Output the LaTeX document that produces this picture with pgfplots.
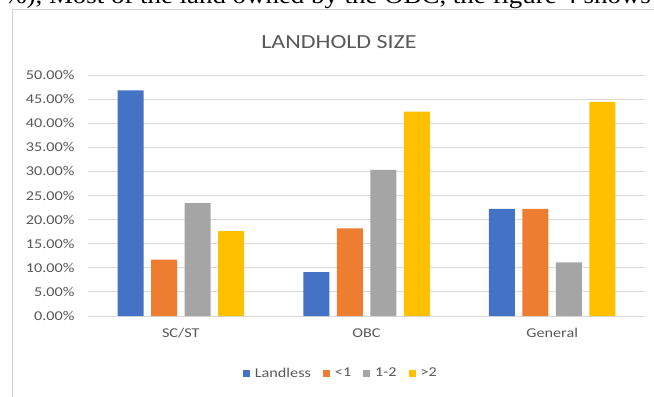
\documentclass[border=0pt]{standalone}
\usepackage{fontspec}
\setmainfont{Carlito}[FakeStretch=1.2]
\newfontfamily\timesfont{Liberation Serif}[FakeStretch=1.12]
\usepackage{pgfplots}
\pgfplotsset{compat=1.18}
\definecolor{cBlue}{RGB}{68,114,196}
\definecolor{cOrange}{RGB}{237,125,49}
\definecolor{cGray}{RGB}{165,165,165}
\definecolor{cYellow}{RGB}{255,192,0}
\definecolor{txt}{RGB}{89,89,89}
\definecolor{gridc}{RGB}{217,217,217}
\definecolor{borderc}{RGB}{210,210,210}
\begin{document}
\begin{tikzpicture}[x=1bp,y=1bp]
\useasboundingbox (0,0) rectangle (654,396);
\clip (0,0) rectangle (654,396);
\fill[white] (0,0) rectangle (654,396);
\draw[color=borderc, line width=1bp] (12,-5) -- (12,386) -- (670,386);
\node[anchor=base east, inner sep=0pt, font=\timesfont\fontsize{24bp}{28bp}\selectfont] at (651,392.5) {\%), Most of the land owned by the OBC, the figure 4 shows};
\begin{axis}[
  at={(88bp,80bp)}, anchor=south west, scale only axis,
  width=557bp, height=241bp,
  ymin=0, ymax=50, xmin=-0.5, xmax=2.5,
  ytick={0,5,...,50},
  xtick={0,1,2}, xticklabels={SC/ST,OBC,General},
  ybar=7.5bp, bar width=26bp,
  ymajorgrids, grid style={draw=gridc, line width=1bp},
  major tick length=0,
  axis lines*=left,
  y axis line style={draw=none},
  x axis line style={draw=gridc, line width=1bp},
  /pgf/number format/assume math mode=true,
  yticklabel={\pgfmathprintnumber[fixed,fixed zerofill,precision=2]{\tick}\%},
  ticklabel style={font=\fontsize{13.5bp}{16bp}\selectfont, text=txt},
  yticklabel style={xshift=-10bp},
  xticklabel style={yshift=-9bp},
  legend style={at={(0.454,-0.237)}, anchor=center, legend columns=-1, draw=none, fill=none,
    font=\fontsize{13.5bp}{16bp}\selectfont, text=txt,
    /tikz/every odd column/.append style={column sep=3bp},
    /tikz/every even column/.append style={column sep=10bp}},
  legend image code/.code={\fill[#1] (0bp,-3.5bp) rectangle (7bp,3.5bp);},
]
\addplot[fill=cBlue, draw=none] coordinates {(0,46.8) (1,9.09) (2,22.22)};
\addplot[fill=cOrange, draw=none] coordinates {(0,11.7) (1,18.18) (2,22.22)};
\addplot[fill=cGray, draw=none] coordinates {(0,23.4) (1,30.30) (2,11.11)};
\addplot[fill=cYellow, draw=none] coordinates {(0,17.6) (1,42.42) (2,44.44)};
\legend{Landless,<1,1-2,>2}
\end{axis}
\node[font=\fontsize{20bp}{24bp}\selectfont, text=txt] at (339,354) {LANDHOLD SIZE};
\end{tikzpicture}
\end{document}
